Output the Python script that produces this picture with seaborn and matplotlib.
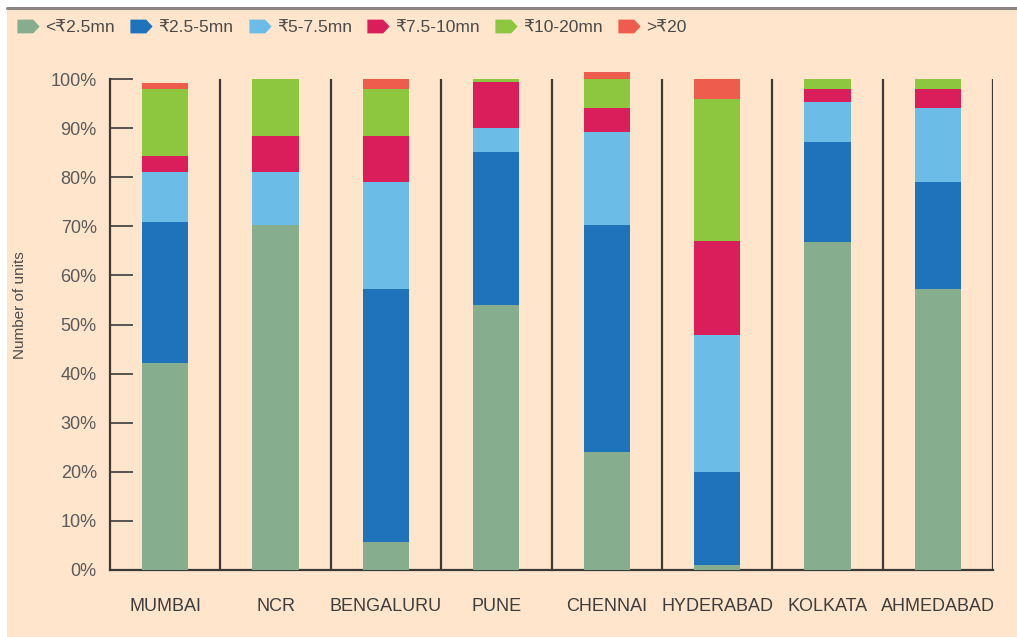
import numpy as np
import pandas as pd
import matplotlib
matplotlib.use("Agg")
import matplotlib.pyplot as plt
import seaborn as sns
from matplotlib.lines import Line2D
from matplotlib.patches import Rectangle

# ---------------- data ----------------
cities = ["MUMBAI", "NCR", "BENGALURU", "PUNE", "CHENNAI", "HYDERABAD", "KOLKATA", "AHMEDABAD"]
series_labels = ["<₹2.5mn", "₹2.5-5mn", "₹5-7.5mn", "₹7.5-10mn", "₹10-20mn", ">₹20"]
lt_2_5  = [42.2, 70.2, 5.8, 54.0, 24.0, 1.0, 66.9, 57.2]
b2_5_5  = [28.7, 0.0, 51.4, 31.1, 46.2, 19.0, 20.3, 21.8]
b5_7_5  = [10.1, 10.9, 21.8, 4.9, 19.0, 27.9, 8.1, 15.0]
b7_5_10 = [3.3, 7.3, 9.4, 9.3, 4.8, 19.1, 2.7, 4.0]
b10_20  = [13.7, 11.6, 9.6, 0.7, 6.0, 29.0, 2.0, 2.0]
gt_20   = [1.2, 0.0, 2.0, 0.0, 1.4, 4.0, 0.0, 0.0]
yticks = [0, 10, 20, 30, 40, 50, 60, 70, 80, 90, 100]
ytick_labels = [f"{v}%" for v in yticks]

colors = ["#87AD8F", "#1E73BA", "#6BBDE8", "#DA1D5B", "#8DC63F", "#EE5C4E"]

series = [lt_2_5, b2_5_5, b5_7_5, b7_5_10, b10_20, gt_20]
cum = np.cumsum(np.array(series), axis=0)

# ---------------- style ----------------
sns.set_theme(style="white")
plt.rcParams["font.family"] = ["Liberation Sans", "DejaVu Sans"]

W, H = 1017, 637
fig = plt.figure(figsize=(W / 100, H / 100), dpi=100, facecolor="white")
bg = "#FEE5CB"
fig.patches.append(Rectangle((7 / W, 0), 1 - 7 / W, 1 - 9 / H, transform=fig.transFigure,
                             facecolor=bg, edgecolor="none", zorder=-10))
fig.lines.append(Line2D([7 / W, 1], [1 - 7.5 / H, 1 - 7.5 / H], transform=fig.transFigure,
                        color="#8a8580", linewidth=2.2, zorder=-9))

ax = fig.add_axes([110 / W, 67 / H, (993 - 110) / W, (570 - 79) / H])
ax.set_facecolor("none")
ax.set_zorder(5)

df = pd.DataFrame({"city": cities})
for i in range(len(series) - 1, -1, -1):
    df["cum"] = cum[i]
    sns.barplot(data=df, x="city", y="cum", color=colors[i], width=0.42, ax=ax,
                linewidth=0, zorder=3, clip_on=False, saturation=1, errorbar=None)

n = len(cities)
ax.set_xlim(-0.5, n - 0.5)
ax.set_ylim(0, 100)
for k in range(n):
    ax.axvline(k + 0.5, color="#3a3a3a", linewidth=1.6, zorder=2)

ax.spines["top"].set_visible(False)
ax.spines["right"].set_visible(False)
for s in ["left", "bottom"]:
    ax.spines[s].set_color("#3a3a3a")
    ax.spines[s].set_linewidth(1.6)
    ax.spines[s].set_zorder(2)

ax.set_yticks(yticks)
ax.set_yticklabels(ytick_labels)
ax.tick_params(axis="y", direction="in", length=16.5, width=1.2, color="#3a3a3a",
               labelsize=13, labelcolor="#5a5a5a", pad=9.5, left=True)
ax.tick_params(axis="x", length=0, labelsize=13, labelcolor="#3d3d3d", pad=20)
ax.set_xlabel("")
ax.set_ylabel("Number of units", fontsize=11, color="#4a4a4a")
ax.yaxis.set_label_coords(-0.094, 0.54)

arrow = [(-1, -0.62), (0.42, -0.62), (1, 0), (0.42, 0.62), (-1, 0.62), (-1, -0.62)]
handles = [Line2D([], [], marker=arrow, linestyle="none", markersize=16,
                  markerfacecolor=c, markeredgecolor="none") for c in colors]
fig.legend(handles, series_labels, loc="center left", bbox_to_anchor=(10 / W, 1 - 27 / H),
           ncol=6, frameon=False, fontsize=12.5, handlelength=1.3, handletextpad=0.35,
           columnspacing=0.85, labelcolor="#4a4a4a", borderaxespad=0)

fig.savefig("out.png", dpi=100, facecolor=fig.get_facecolor())
